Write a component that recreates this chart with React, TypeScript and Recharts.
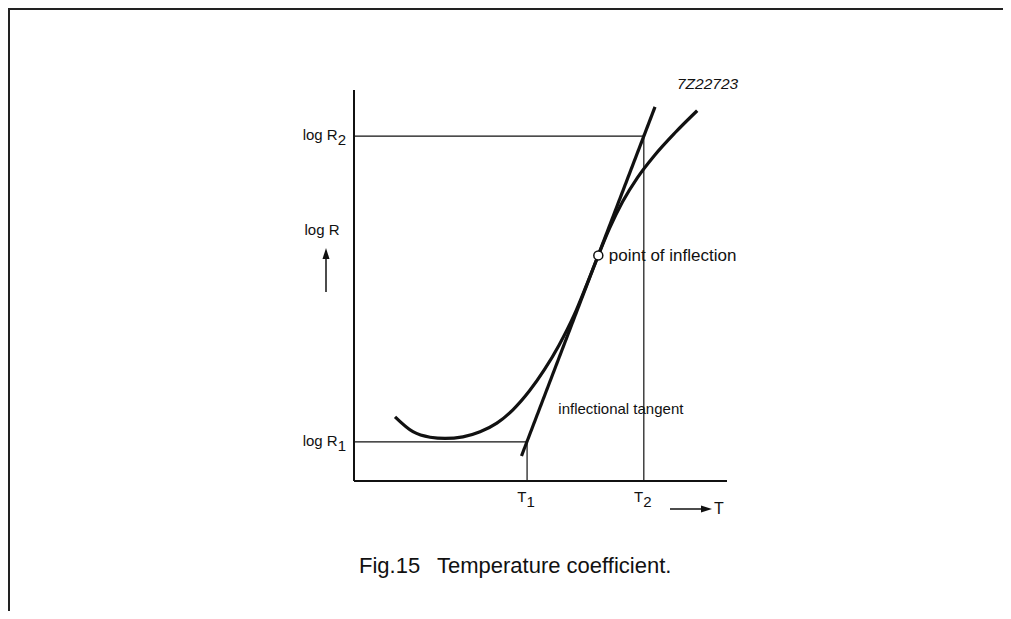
import {
  ComposedChart,
  Line,
  XAxis,
  YAxis,
  ReferenceLine,
  ReferenceDot,
  Customized,
} from "recharts";

// curve of log R against T (arbitrary units, 0..100 on both axes)
const curveT = [11.0, 15.8, 20.4, 24.4, 29.2, 33.8, 38.3, 42.6, 47.0, 51.0, 55.0, 59.0, 62.5, 65.5, 68.5, 72.0, 76.0, 80.5, 86.0, 92.0];
const curveR = [16.4, 12.6, 11.2, 10.9, 11.3, 12.6, 14.8, 18.2, 23.0, 28.4, 34.8, 42.4, 50.5, 57.7, 64.6, 71.4, 77.6, 83.2, 89.0, 94.7];

// inflectional tangent end points
const tangentT = [44.9, 80.7];
const tangentR = [6.4, 95.7];

// T1, T2 and log R1, log R2
const tickT = [46.4, 77.7];
const tickR = [10.0, 88.2];
const tickNames = ["1", "2"];

const inflectionT = 65.5;
const inflectionR = 57.7;
const noteT = 53.7;
const noteR = 18.4;

const curveData = curveT.map((t, i) => ({ t, r: curveR[i] }));
const tangentData = tangentT.map((t, i) => ({ t, r: tangentR[i] }));

const FONT = "'Liberation Sans', Arial, Helvetica, sans-serif";
const INK = "#111";

const W = 990;
const H = 590;
const M = { top: 80, right: 271, bottom: 79, left: 286 };
const YW = 60;
const XH = 40;

function RTick(props: any) {
  const { x, y, payload } = props;
  const sub = tickNames[tickR.indexOf(payload.value)];
  return (
    <text x={x} y={y + 4} textAnchor="end" fontSize={15} fontFamily={FONT} fill={INK}>
      log R<tspan dy={5}>{sub}</tspan>
    </text>
  );
}

function TTick(props: any) {
  const { x, y, payload } = props;
  const sub = tickNames[tickT.indexOf(payload.value)];
  return (
    <text x={x - 1} y={y + 21} textAnchor="middle" fontSize={15} fontFamily={FONT} fill={INK}>
      T<tspan dy={5}>{sub}</tspan>
    </text>
  );
}

function Extras() {
  const plotL = M.left + YW;
  const plotB = H - M.bottom - XH;
  const plotR = W - M.right;
  const ax = plotL - 28; // y-axis arrow
  const bx = plotR - 57; // x-axis arrow start
  const by = plotB + 28;
  return (
    <g fontFamily={FONT} fill={INK}>
      <text x={plotR - 50} y={M.top - 1} fontSize={15.5} fontStyle="italic">
        7Z22723
      </text>
      <text x={plotL - 32} y={225} fontSize={15} textAnchor="middle">
        log R
      </text>
      <line x1={ax} y1={282} x2={ax} y2={246} stroke={INK} strokeWidth={1.5} />
      <polygon points={`${ax},238 ${ax - 3.5},249 ${ax + 3.5},249`} fill={INK} />
      <line x1={bx} y1={by} x2={bx + 34} y2={by} stroke={INK} strokeWidth={1.5} />
      <polygon points={`${bx + 42},${by} ${bx + 31},${by - 3.5} ${bx + 31},${by + 3.5}`} fill={INK} />
      <text x={bx + 44} y={by + 5} fontSize={16}>
        T
      </text>
      <text x={351} y={563} fontSize={22}>
        Fig.15
      </text>
      <text x={429} y={563} fontSize={22}>
        Temperature coefficient.
      </text>
    </g>
  );
}

export default function App() {
  return (
    <div
      style={{
        position: "relative",
        margin: "-8px 0 0 -8px",
        width: 1003,
        height: 611,
        overflow: "hidden",
      }}
    >
      <div style={{ position: "absolute", left: 7, top: 8, width: 996, height: 2, background: "#222" }} />
      <div style={{ position: "absolute", left: 7, top: 8, width: 3, height: 603, background: "#222" }} />
      <div style={{ position: "absolute", left: 8, top: 10 }}>
        <ComposedChart width={W} height={H} margin={M}>
          <XAxis
            dataKey="t"
            type="number"
            domain={[0, 100]}
            ticks={tickT}
            interval={0}
            allowDataOverflow
            height={XH}
            tickSize={0}
            tickMargin={0}
            tickLine={false}
            tick={<TTick />}
            axisLine={{ stroke: INK, strokeWidth: 2 }}
          />
          <YAxis
            dataKey="r"
            type="number"
            domain={[0, 100]}
            ticks={tickR}
            interval={0}
            allowDataOverflow
            width={YW}
            tickSize={0}
            tickMargin={8}
            tickLine={false}
            tick={<RTick />}
            axisLine={{ stroke: INK, strokeWidth: 2 }}
          />
          <ReferenceLine
            segment={[{ x: 0, y: tickR[1] }, { x: tickT[1], y: tickR[1] }]}
            stroke={INK}
            strokeWidth={1.2}
            ifOverflow="visible"
          />
          <ReferenceLine
            segment={[{ x: tickT[1], y: 0 }, { x: tickT[1], y: tickR[1] }]}
            stroke={INK}
            strokeWidth={1.2}
            ifOverflow="visible"
          />
          <ReferenceLine
            segment={[{ x: 0, y: tickR[0] }, { x: tickT[0], y: tickR[0] }]}
            stroke={INK}
            strokeWidth={1.2}
            ifOverflow="visible"
          />
          <ReferenceLine
            segment={[{ x: tickT[0], y: 0 }, { x: tickT[0], y: tickR[0] }]}
            stroke={INK}
            strokeWidth={1.2}
            ifOverflow="visible"
          />
          <Line
            data={curveData}
            dataKey="r"
            type="monotone"
            stroke={INK}
            strokeWidth={3.2}
            dot={false}
            activeDot={false}
            isAnimationActive={false}
          />
          <Line
            data={tangentData}
            dataKey="r"
            type="linear"
            stroke={INK}
            strokeWidth={3.2}
            dot={false}
            activeDot={false}
            isAnimationActive={false}
          />
          <ReferenceDot
            x={inflectionT}
            y={inflectionR}
            r={4.5}
            fill="#fff"
            stroke={INK}
            strokeWidth={1.5}
            ifOverflow="visible"
            label={{
              value: "point of inflection",
              position: "right",
              offset: 6,
              fontSize: 17,
              fontFamily: FONT,
              fill: INK,
            }}
          />
          <ReferenceDot
            x={noteT}
            y={noteR}
            r={0}
            fill="none"
            stroke="none"
            ifOverflow="visible"
            label={{
              value: "inflectional tangent",
              position: "right",
              offset: 4,
              fontSize: 15,
              fontFamily: FONT,
              fill: INK,
            }}
          />
          <Customized component={Extras} />
        </ComposedChart>
      </div>
    </div>
  );
}
